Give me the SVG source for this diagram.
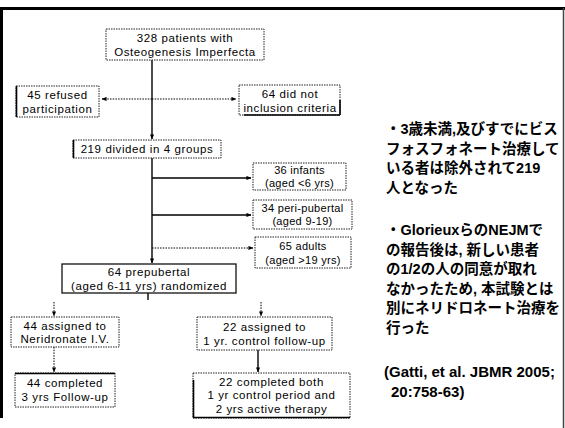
<svg xmlns="http://www.w3.org/2000/svg" width="565" height="428" viewBox="0 0 565 428">
<defs>
<marker id="ah" viewBox="0 0 6 6" refX="5.5" refY="3" markerWidth="5" markerHeight="5" orient="auto" markerUnits="userSpaceOnUse">
<path d="M0,0.5 L6,3 L0,5.5 Z" fill="#000"/>
</marker>
<style>
.box{fill:#fff;stroke:#222;stroke-width:1;stroke-dasharray:1.5 1}
.solidbox{fill:#fff;stroke:#111;stroke-width:1.3}
.edge{stroke:#000;stroke-width:1.6;fill:none}
.t{font-family:"Liberation Sans",Arial,sans-serif;font-size:11.5px;letter-spacing:0.6px;fill:#000;text-anchor:middle}
.ts{font-family:"Liberation Sans",Arial,sans-serif;font-size:11px;letter-spacing:0.3px;fill:#000;text-anchor:middle}
.ln{stroke:#000;stroke-width:1.4;fill:none}
.dl{stroke:#000;stroke-width:1;fill:none;stroke-dasharray:1.5 1.2}
.jp{font-family:"Liberation Sans","Noto Sans CJK JP",sans-serif;font-size:14.5px;font-weight:bold;fill:#000}
</style>
</defs>
<rect width="565" height="428" fill="#fff"/>
<g id="frame">
<line x1="0" y1="8.5" x2="565" y2="8.5" stroke="#000" stroke-width="3"/>
<line x1="1.5" y1="8" x2="1.5" y2="418" stroke="#000" stroke-width="3"/>
<line x1="563.5" y1="8" x2="563.5" y2="428" stroke="#444" stroke-width="1.5"/>
</g>
<g id="connectors">
<line class="ln" x1="152" y1="60" x2="152" y2="139" marker-end="url(#ah)"/>
<line class="dl" x1="152" y1="99" x2="102" y2="99" marker-end="url(#ah)"/>
<line class="dl" x1="152" y1="99" x2="236" y2="99" marker-end="url(#ah)"/>
<line class="ln" x1="152" y1="158" x2="152" y2="263" marker-end="url(#ah)"/>
<line class="ln" x1="152" y1="178" x2="251" y2="178" marker-end="url(#ah)"/>
<line class="ln" x1="152" y1="215" x2="251" y2="215" marker-end="url(#ah)"/>
<line class="dl" x1="152" y1="248" x2="253" y2="248" marker-end="url(#ah)"/>
<line class="ln" x1="148" y1="293" x2="148" y2="300"/>
<line class="dl" x1="54" y1="302" x2="54" y2="316" marker-end="url(#ah)"/>
<line class="dl" x1="261" y1="302" x2="261" y2="316" marker-end="url(#ah)"/>
<line class="dl" x1="54" y1="347" x2="54" y2="372" marker-end="url(#ah)"/>
<line class="ln" x1="258" y1="350" x2="258" y2="372" marker-end="url(#ah)"/>
</g>
<g id="n_patients">
<rect class="box" x="106" y="29" width="158" height="31"/>
<text class="t" x="185" y="42">328 patients with</text>
<text class="t" x="185" y="56">Osteogenesis Imperfecta</text>
</g>
<g id="n_refused">
<rect class="box" x="16" y="86" width="83" height="31"/>
<line class="edge" x1="16.5" y1="86" x2="16.5" y2="117"/>
<text class="t" x="57.5" y="98.5">45 refused</text>
<text class="t" x="57.5" y="112.5">participation</text>
</g>
<g id="n_notincl">
<rect class="box" x="239" y="85" width="101" height="30"/>
<line class="edge" x1="244" y1="115" x2="340" y2="115"/>
<line class="edge" x1="340" y1="100" x2="340" y2="115"/>
<text class="t" x="290" y="97.5">64 did not</text>
<text class="t" x="290" y="111.5">inclusion criteria</text>
</g>
<g id="n_divided">
<rect class="box" x="73" y="140" width="148" height="18"/>
<line class="edge" x1="73.5" y1="140" x2="73.5" y2="158"/>
<text class="t" x="147" y="153">219 divided in 4 groups</text>
</g>
<g id="n_infants">
<rect class="box" x="253" y="163" width="93" height="27"/>
<text class="ts" x="299.5" y="174">36 infants</text>
<text class="ts" x="299.5" y="187">(aged &lt;6 yrs)</text>
</g>
<g id="n_peri">
<rect class="box" x="253" y="200" width="99" height="29"/>
<text class="ts" x="302.5" y="212">34 peri-pubertal</text>
<text class="ts" x="302.5" y="225">(aged 9-19)</text>
</g>
<g id="n_adults">
<rect class="box" x="255" y="237" width="96" height="31"/>
<text class="ts" x="303" y="250">65 adults</text>
<text class="ts" x="303" y="263.5">(aged &gt;19 yrs)</text>
</g>
<g id="n_prepubertal">
<rect class="solidbox" x="62" y="264" width="174" height="29"/>
<text class="t" x="149" y="276">64 prepubertal</text>
<text class="t" x="149" y="289.5">(aged 6-11 yrs) randomized</text>
</g>
<g id="n_neri">
<rect class="box" x="11" y="317" width="108" height="30"/>
<text class="t" x="65" y="329.5">44 assigned to</text>
<text class="t" x="65" y="343">Neridronate I.V.</text>
</g>
<g id="n_control">
<rect class="box" x="197" y="317" width="135" height="33"/>
<text class="t" x="264.5" y="330.5">22 assigned to</text>
<text class="t" x="264.5" y="344.5">1 yr. control follow-up</text>
</g>
<g id="n_completed44">
<rect class="box" x="15" y="373" width="100" height="34"/>
<line class="edge" x1="15" y1="373.5" x2="115" y2="373.5"/>
<text class="t" x="65" y="386.5">44 completed</text>
<text class="t" x="65" y="400.5">3 yrs Follow-up</text>
</g>
<g id="n_completed22">
<rect class="box" x="193" y="373" width="157" height="45"/>
<line class="edge" x1="193.5" y1="380" x2="193.5" y2="418"/>
<line class="edge" x1="193" y1="417.5" x2="350" y2="417.5"/>
<text class="t" x="271.5" y="385.5">22 completed both</text>
<text class="t" x="271.5" y="399">1 yr control period and</text>
<text class="t" x="271.5" y="412.5">2 yrs active therapy</text>
</g>
<g id="notes">
<text class="jp" x="386" y="134">・3歳未満,及びすでにビス</text>
<text class="jp" x="386" y="153.5">フォスフォネート治療して</text>
<text class="jp" x="386" y="173">いる者は除外されて219</text>
<text class="jp" x="386" y="192.5">人となった</text>
<text class="jp" x="386" y="235">・GlorieuxらのNEJMで</text>
<text class="jp" x="386" y="254.5">の報告後は, 新しい患者</text>
<text class="jp" x="386" y="274">の1/2の人の同意が取れ</text>
<text class="jp" x="386" y="293.5">なかったため, 本試験とは</text>
<text class="jp" x="386" y="313">別にネリドロネート治療を</text>
<text class="jp" x="386" y="332.5">行った</text>
<text class="jp" x="384" y="377" style="font-size:15px">(Gatti, et al. JBMR 2005;</text>
<text class="jp" x="391" y="397" style="font-size:15px">20:758-63)</text>
</g>
</svg>
